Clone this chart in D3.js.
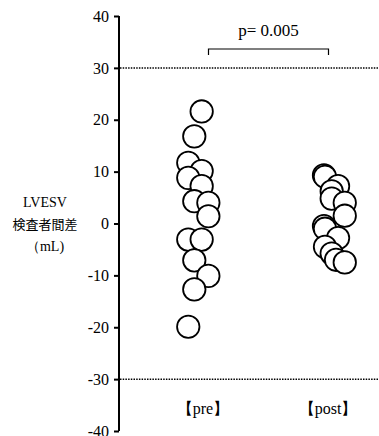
<!DOCTYPE html>
<html>
<head>
<meta charset="utf-8">
<script src="https://cdn.jsdelivr.net/npm/d3@7"></script>
<style>
  body { margin: 0; background: #fff; }
</style>
</head>
<body>
<svg id="chart" width="379" height="436"></svg>
<script>
// values (mL), with the jitter lane of each dot
var categories = ["pre", "post"];
var catLabels = ["【pre】", "【post】"];
var preValues = [21.6, 16.8, 11.7, 10.1, 8.8, 7.2, 4.3, 4.0, 1.4, -3.1, -3.1, -7.1, -10.1, -12.7, -19.9];
var preLanes  = [-0.2, -1.3, -2.2, -0.2, -2.2, -0.2, -1.3, 0.8, 0.8, -2.2, -0.2, -1.3, 0.8, -1.3, -2.2];
var postValues = [9.3, 9.0, 7.2, 6.2, 4.8, 4.0, 1.5, -0.5, -1.0, -2.8, -4.5, -5.8, -7.0, -7.5];
var postLanes  = [-0.6, -0.45, 1.5, 0.55, 0.55, 2.5, 2.5, -0.6, -0.45, 1.5, -0.45, 0.55, 1.2, 2.5];
var yTicks = [40, 30, 20, 10, 0, -10, -20, -30, -40];
var limits = [30, -30];
var pText = "p= 0.005";

var serif = "'Liberation Serif', 'DejaVu Serif', serif";
var svg = d3.select("#chart");

var y = d3.scaleLinear().domain([-40, 40]).range([431, 16]);
var x = d3.scalePoint().domain(categories).range([203, 328]);
var laneW = 6.7;

// y axis
var yAxis = svg.append("g")
  .attr("transform", "translate(119,0)")
  .call(d3.axisLeft(y).tickValues(yTicks).tickSize(5).tickPadding(5)
    .tickFormat(function(d) { return String(d); }));
yAxis.attr("font-family", serif).attr("font-size", 16);
yAxis.select(".domain").attr("stroke", "#000").attr("stroke-width", 2).attr("d", "M0," + y(40) + "V" + y(-40));
yAxis.selectAll(".tick line").attr("stroke", "#000").attr("stroke-width", 2);
yAxis.selectAll(".tick text").attr("fill", "#000");

// dotted limit lines
svg.selectAll(".limit").data(limits).enter().append("line")
  .attr("x1", 120).attr("x2", 379)
  .attr("y1", function(d) { return y(d); }).attr("y2", function(d) { return y(d); })
  .attr("stroke", "#000").attr("stroke-width", 1.5).attr("stroke-dasharray", "1.5,1.2");

// y label
var yl = svg.append("text").attr("text-anchor", "middle").attr("font-size", 14)
  .attr("font-family", serif).attr("fill", "#000");
yl.append("tspan").attr("x", 45).attr("y", 207).text("LVESV");
yl.append("tspan").attr("x", 45).attr("y", 229).text("検査者間差")
  .attr("font-family", "'Noto Sans CJK JP'").attr("font-size", 13);
yl.append("tspan").attr("x", 45).attr("y", 251).text("（mL)");

// dots
var pts = [];
preValues.forEach(function(v, i) { pts.push({cat: "pre", v: v, lane: preLanes[i]}); });
postValues.forEach(function(v, i) { pts.push({cat: "post", v: v, lane: postLanes[i]}); });

svg.selectAll(".dot").data(pts).enter().append("circle")
  .attr("cx", function(d) { return x(d.cat) + d.lane * laneW; })
  .attr("cy", function(d) { return y(d.v); })
  .attr("r", 11.2)
  .attr("fill", "#fff").attr("stroke", "#000").attr("stroke-width", 1.8);

// category labels
svg.selectAll(".cat").data(categories).enter().append("text")
  .attr("x", function(d) { return x(d); }).attr("y", 414)
  .attr("text-anchor", "middle").attr("font-size", 16).attr("font-family", serif).attr("fill", "#000")
  .text(function(d, i) { return catLabels[i]; });

// significance bracket
var bx1 = 208.5, bx2 = 328.5, by = 49;
svg.append("path")
  .attr("d", "M" + bx1 + "," + (by + 6) + "V" + by + "H" + bx2 + "V" + (by + 6))
  .attr("fill", "none").attr("stroke", "#000").attr("stroke-width", 1.2);
svg.append("text").attr("x", (bx1 + bx2) / 2).attr("y", 36)
  .attr("text-anchor", "middle").attr("font-size", 17).attr("font-family", serif).attr("fill", "#000").text(pText);
</script>
</body>
</html>
